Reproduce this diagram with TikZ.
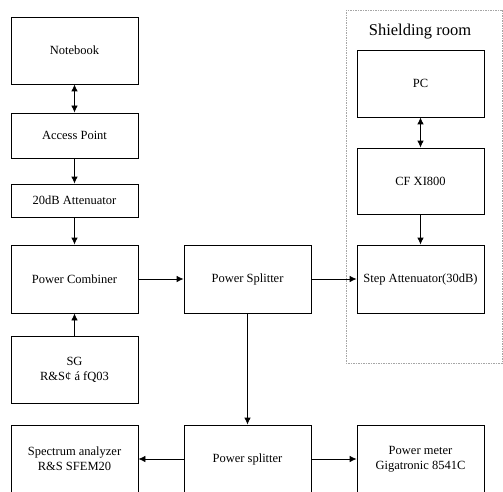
\documentclass[tikz,border=0pt]{standalone}
\usepackage{fontspec}
\setmainfont{Liberation Serif}
\usetikzlibrary{arrows.meta}

\definecolor{roomgray}{rgb}{0.65,0.65,0.65}

\begin{document}
\begin{tikzpicture}[>={Latex[length=7pt,width=6.5pt]},x=1pt,y=-1pt,line width=0.8pt,
	blk/.style={draw,minimum width=127pt,inner sep=0pt,align=center,
		font=\fontsize{12.5}{15}\selectfont}]
\useasboundingbox (0,0) rectangle (503,492);
\clip (0,0) rectangle (503,492);
% left column
\node[blk,minimum height=67pt] (nb) at (74.5,50.5) {Notebook};
\node[blk,minimum height=45pt] (ap) at (74.5,135.5) {Access Point};
\node[blk,minimum height=33pt] (att) at (74.5,200.5) {20dB Attenuator};
\node[blk,minimum height=68pt] (comb) at (74.5,279) {Power Combiner};
\node[blk,minimum height=67pt] (sg) at (74.5,369.5) {SG\\R\&S¢ á fQ03};
\node[blk,minimum height=68pt] (spec) at (74.5,459) {Spectrum analyzer\\R\&S SFEM20};

% middle column
\node[blk,minimum height=68pt] (split) at (247.5,279) {Power Splitter};
\node[blk,minimum height=68pt] (psplit) at (247.5,459) {Power splitter};

% shielding room
\begin{scope}
\draw[roomgray,line width=0.5pt,dash pattern=on 1.5pt off 1pt]
	(346,10) rectangle (502,363);
\node[font=\fontsize{16.5}{18}\selectfont] (room) at (420,32) {Shielding room};
\end{scope}
\node[blk,minimum height=67pt] (pc) at (420.5,83.5) {PC};
\node[blk,minimum height=66pt] (cf) at (420.5,181) {CF XI800};
\node[blk,minimum height=68pt] (step) at (420.5,279) {Step Attenuator(30dB)};
\node[blk,minimum height=68pt] (pm) at (420.5,459) {Power meter\\Gigatronic 8541C};

% connectors
\draw[<->] (nb) -- (ap);
\draw[->] (ap) -- (att);
\draw[->] (att) -- (comb);
\draw[->] (sg) -- (comb);
\draw[->] (comb) -- (split);
\draw[->] (split) -- (step);
\draw[<->] (pc) -- (cf);
\draw[->] (cf) -- (step);
\draw[->] (split) -- (psplit);
\draw[->] (psplit) -- (spec);
\draw[->] (psplit) -- (pm);

\end{tikzpicture}
\end{document}
